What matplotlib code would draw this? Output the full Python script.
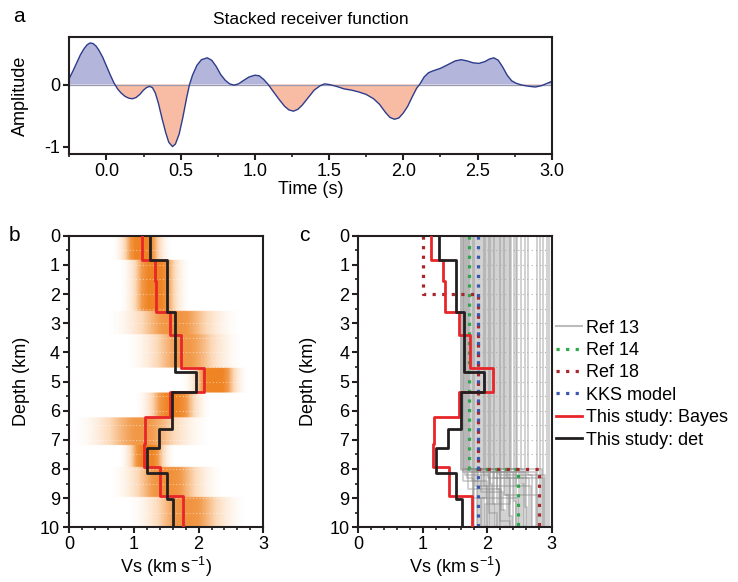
import numpy as np
import matplotlib
matplotlib.use("Agg")
import matplotlib.pyplot as plt
from matplotlib.colors import LinearSegmentedColormap
from matplotlib.ticker import MultipleLocator

plt.rcParams['font.family'] = ['Liberation Sans', 'DejaVu Sans']
plt.rcParams['axes.unicode_minus'] = False
plt.rcParams['mathtext.default'] = 'regular'

#%% Data

# panel a: stacked receiver function (time s, amplitude)
rf_time = [-0.25, -0.225, -0.20, -0.175, -0.15, -0.13, -0.11, -0.09, -0.07, -0.05,
           -0.025, 0.00, 0.025, 0.05, 0.075, 0.10, 0.125, 0.15, 0.175, 0.20,
           0.225, 0.25, 0.27, 0.29, 0.31, 0.33, 0.35, 0.375, 0.40, 0.42,
           0.445, 0.465, 0.49, 0.515, 0.54, 0.56, 0.58, 0.61, 0.64, 0.68,
           0.71, 0.74, 0.77, 0.80, 0.83, 0.86, 0.89, 0.92, 0.96, 1.00,
           1.03, 1.06, 1.09, 1.12, 1.16, 1.20, 1.23, 1.26, 1.29, 1.32,
           1.36, 1.40, 1.44, 1.47, 1.50, 1.55, 1.60, 1.65, 1.70, 1.75,
           1.80, 1.84, 1.88, 1.91, 1.94, 1.97, 2.00, 2.03, 2.06, 2.09,
           2.11, 2.14, 2.17, 2.20, 2.25, 2.30, 2.35, 2.39, 2.43, 2.47,
           2.51, 2.55, 2.58, 2.61, 2.64, 2.67, 2.70, 2.73, 2.76, 2.80,
           2.85, 2.89, 2.93, 2.97, 3.00]
rf_amp = [0.10, 0.22, 0.35, 0.48, 0.58, 0.64, 0.67, 0.66, 0.62, 0.55,
          0.44, 0.30, 0.16, 0.03, -0.07, -0.14, -0.19, -0.22, -0.23, -0.21,
          -0.16, -0.09, -0.05, -0.03, -0.05, -0.14, -0.30, -0.55, -0.78, -0.93,
          -1.00, -0.96, -0.80, -0.53, -0.22, 0.00, 0.15, 0.31, 0.40, 0.43,
          0.39, 0.29, 0.16, 0.07, 0.01, -0.01, 0.01, 0.06, 0.12, 0.15,
          0.14, 0.08, 0.00, -0.10, -0.23, -0.35, -0.41, -0.43, -0.40, -0.33,
          -0.21, -0.09, -0.02, 0.01, 0.00, -0.03, -0.07, -0.09, -0.12, -0.16,
          -0.23, -0.32, -0.45, -0.53, -0.56, -0.54, -0.46, -0.35, -0.20, -0.06,
          0.00, 0.12, 0.19, 0.22, 0.26, 0.32, 0.38, 0.40, 0.38, 0.35,
          0.34, 0.37, 0.41, 0.43, 0.39, 0.28, 0.15, 0.06, 0.02, -0.01,
          -0.03, -0.04, -0.02, 0.02, 0.05]

# this study: layer tops (km) and Vs (km/s)
bayes_top = [0, 0.85, 1.55, 2.62, 3.40, 4.53, 5.37, 6.23, 7.15, 7.94, 8.93]
bayes_vs = [1.13, 1.32, 1.35, 1.56, 1.73, 2.09, 1.56, 1.18, 1.16, 1.41, 1.76]
det_top = [0, 0.85, 2.60, 4.67, 5.36, 6.62, 7.29, 8.15, 9.03]
det_vs = [1.245, 1.51, 1.635, 1.955, 1.595, 1.39, 1.21, 1.52, 1.61]

# posterior bands in panel b: layer top, centre, spread, strength
band_top = [0, 0.85, 2.60, 3.40, 4.55, 5.40, 6.25, 7.20, 7.95, 8.98]
band_mu = [1.12, 1.32, 1.62, 1.78, 2.25, 1.60, 1.12, 1.20, 1.50, 1.82]
band_sig = [0.17, 0.20, 0.40, 0.36, 0.19, 0.22, 0.42, 0.16, 0.34, 0.36]
band_peak = [1.0, 0.95, 0.65, 0.6, 1.0, 0.9, 0.6, 1.0, 0.7, 0.65]

# reference models (depth, Vs) corners
ref14_z = [0, 8, 8, 10]
ref14_vs = [1.72, 1.72, 2.48, 2.48]
ref18_z = [0, 2, 2, 8, 8, 10]
ref18_vs = [1.00, 1.00, 1.85, 1.85, 2.81, 2.81]
kks_z = [0, 10, 10]
kks_vs = [1.85, 1.85, 2.80]

# Ref 13 model family: upper Vs, interface depth, lower Vs
ref13_top = [1.59, 1.60, 1.62, 1.64, 1.66, 1.67, 1.69, 1.71, 1.74, 1.76,
             1.79, 1.81, 1.84, 1.87, 1.90, 1.93, 1.96, 1.98, 2.01, 2.04,
             2.06, 2.09, 2.12, 2.15, 2.18, 2.21, 2.24, 2.27, 2.30, 2.33,
             2.37, 2.41, 2.46, 2.52, 2.58, 2.63, 2.77, 2.82, 2.87, 2.92, 2.96,
             1.63, 1.70, 1.78, 1.95, 2.03, 2.11, 2.20, 2.26, 2.35, 2.44]
ref13_z = [8.0, 8.05, 8.1, 8.0, 8.2, 8.0, 8.3, 8.0, 8.1, 8.4,
           8.0, 8.6, 8.1, 8.0, 8.8, 8.2, 8.0, 9.0, 8.3, 8.5,
           8.1, 9.2, 8.0, 8.7, 8.2, 9.4, 8.0, 8.9, 8.3, 9.6,
           8.1, 9.1, 8.0, 8.5, 9.3, 8.2, 10, 10, 10, 10, 10,
           8.4, 8.7, 9.0, 8.6, 9.5, 8.3, 9.8, 8.9, 9.2, 8.6]
ref13_bot = [1.80, 1.95, 1.86, 2.10, 1.92, 2.20, 1.78, 2.05, 2.30, 1.88,
             2.15, 1.99, 2.40, 1.84, 2.25, 2.02, 2.55, 1.90, 2.35, 2.08,
             2.60, 2.12, 2.45, 2.18, 2.70, 2.28, 2.50, 2.33, 2.65, 2.38,
             2.75, 2.44, 2.85, 2.57, 2.62, 2.90, 2.80, 2.84, 2.89, 2.93, 2.95,
             2.00, 2.22, 2.48, 2.68, 2.15, 2.88, 2.36, 2.78, 1.97, 2.52]

RED = '#e8262a'
BLACK = '#231f20'
FS = 13


def steps(tops, vs, bottom=10):
    """ turn layer tops / velocities into a staircase (vs, depth) """
    x, y = [], []
    edges = list(tops) + [bottom]
    for i, v in enumerate(vs):
        x += [v, v]
        y += [edges[i], edges[i + 1]]
    return x, y


def style_depth_axis(ax, ypad):
    ax.set_xlim(0, 3)
    ax.set_ylim(10, 0)
    ax.xaxis.set_major_locator(MultipleLocator(1))
    ax.xaxis.set_minor_locator(MultipleLocator(0.2))
    ax.yaxis.set_major_locator(MultipleLocator(1))
    ax.yaxis.set_minor_locator(MultipleLocator(0.5))
    ax.set_xlabel('Vs (km s$^{-1}$)', fontsize=FS, labelpad=1)
    ax.set_ylabel('Depth (km)', fontsize=FS, labelpad=ypad)


#%% Figure
fig = plt.figure(figsize=(7.38, 5.82), dpi=100)
ax_a = fig.add_axes([0.0939, 0.7354, 0.6537, 0.2015])
ax_b = fig.add_axes([0.0935, 0.094, 0.2633, 0.501])
ax_c = fig.add_axes([0.4855, 0.094, 0.2621, 0.501])

for ax in (ax_a, ax_b, ax_c):
    for s in ax.spines.values():
        s.set_linewidth(1.5)
        s.set_color(BLACK)
    ax.tick_params(which='major', direction='out', length=4.5, width=1.5,
                   labelsize=FS, color=BLACK, pad=2)
    ax.tick_params(which='minor', direction='out', length=2.5, width=1.2,
                   color=BLACK)

# panel a
t = np.array(rf_time)
amp = np.array(rf_amp)
ax_a.fill_between(t, amp, 0, where=amp >= 0, interpolate=True,
                  color='#b3b5db', lw=0)
ax_a.fill_between(t, amp, 0, where=amp <= 0, interpolate=True,
                  color='#f8bca4', lw=0)
ax_a.axhline(0, color='#9a9aae', lw=0.9)
ax_a.plot(t, amp, color='#2e3c8c', lw=1.0)
ax_a.set_xlim(-0.25, 3.0)
ax_a.set_ylim(-1.12, 0.77)
ax_a.xaxis.set_minor_locator(MultipleLocator(0.25))
ax_a.set_xticks([0, 0.5, 1, 1.5, 2, 2.5, 3])
ax_a.set_xticklabels(['0.0', '0.5', '1.0', '1.5', '2.0', '2.5', '3.0'])
ax_a.set_yticks([0, -1])
ax_a.set_yticklabels(['0', '-1'])
ax_a.set_xlabel('Time (s)', fontsize=FS, labelpad=1)
ax_a.set_ylabel('Amplitude', fontsize=FS, labelpad=11)
ax_a.set_title('Stacked receiver function', fontsize=12.5, pad=9)

# panel b: posterior density image
vs_grid = np.linspace(0, 3, 301)
z_grid = np.linspace(0, 10, 1001)
idx = np.searchsorted(band_top, z_grid, side='right') - 1
mu = np.array(band_mu)[idx][:, None]
sig = np.array(band_sig)[idx][:, None]
pk = np.array(band_peak)[idx][:, None]
dens = pk * np.exp(-0.5 * ((vs_grid[None, :] - mu) / sig) ** 2)
orange = LinearSegmentedColormap.from_list('orng', ['#ffffff', '#fcd9b8', '#f29a4a', '#ef8424'])
ax_b.imshow(dens, extent=[0, 3, 10, 0], aspect='auto', cmap=orange,
            vmin=0.03, vmax=0.85, interpolation='bilinear', zorder=0)
for zz in np.arange(0.5, 10, 0.5):
    ax_b.axhline(zz, color='white', lw=0.8, ls=(0, (1, 2)), alpha=0.5, zorder=1)
x, y = steps(bayes_top, bayes_vs)
ax_b.plot(x, y, color=RED, lw=2.0, zorder=3)
x, y = steps(det_top, det_vs)
ax_b.plot(x, y, color=BLACK, lw=2.0, zorder=4)
style_depth_axis(ax_b, 7)

# panel c: comparison with other models
for i, v in enumerate(ref13_top):
    zi = ref13_z[i]
    ax_c.plot([v, v, ref13_bot[i], ref13_bot[i]], [0, zi, zi, 10],
              color='#8c8c8c', lw=1.1, alpha=0.5, zorder=1)
for zz in np.arange(0.5, 8, 0.5):
    ax_c.plot([1.58, 2.96], [zz, zz], color='#b0b0b0', lw=0.8,
              ls=(0, (1, 3)), zorder=1)
ax_c.plot([], [], color='#bcbcbc', lw=1.5, label='Ref 13')
dot = (0, (1, 2.0))
ax_c.plot(ref14_vs, ref14_z, color='#2ca84a', lw=2.3, ls=dot, zorder=2,
          label='Ref 14')
ax_c.plot(ref18_vs, ref18_z, color='#a8262c', lw=2.3, ls=dot, zorder=2,
          label='Ref 18')
ax_c.plot(kks_vs, kks_z, color='#3a56b0', lw=2.3, ls=dot, zorder=2,
          label='KKS model')
x, y = steps(bayes_top, bayes_vs)
ax_c.plot(x, y, color=RED, lw=2.0, zorder=3, label='This study: Bayes')
x, y = steps(det_top, det_vs)
ax_c.plot(x, y, color=BLACK, lw=2.0, zorder=4, label='This study: det')
style_depth_axis(ax_c, 9)

handles, labels = ax_c.get_legend_handles_labels()
fig.legend(handles, labels, loc='upper left', bbox_to_anchor=(0.753, 0.451),
           frameon=False, fontsize=FS, handlelength=1.45, handletextpad=0.25,
           labelspacing=0.3, borderpad=0, borderaxespad=0)

# panel letters
fig.text(0.018, 0.988, 'a', fontsize=15, va='top')
fig.text(0.012, 0.612, 'b', fontsize=15, va='top')
fig.text(0.405, 0.612, 'c', fontsize=15, va='top')

plt.savefig('out.png', dpi=100)
